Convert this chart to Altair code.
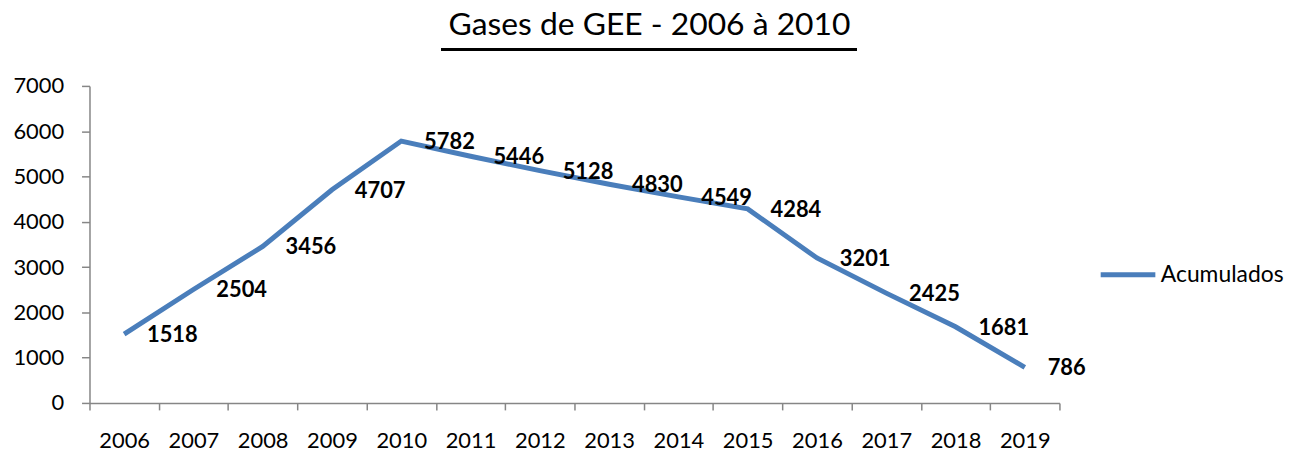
import altair as alt
import pandas as pd

years = ["2006", "2007", "2008", "2009", "2010", "2011", "2012",
         "2013", "2014", "2015", "2016", "2017", "2018", "2019"]
values = [1518, 2504, 3456, 4707, 5782, 5446, 5128,
          4830, 4549, 4284, 3201, 2425, 1681, 786]
series = ["Acumulados"] * len(years)
title_text = "Gases de GEE - 2006 à 2010"

df = pd.DataFrame({"year": years, "value": values, "series": series})

FONT = "Lato"
BLUE = "#4A7EBB"
GRAY = "#868686"

x = alt.X("year:O", title=None,
          scale=alt.Scale(type="band", paddingInner=0, paddingOuter=0),
          axis=alt.Axis(labelAngle=0, tickBand="extent", domainColor=GRAY,
                        tickColor=GRAY, tickSize=7, labelPadding=21,
                        labelFont=FONT, labelFontSize=22, labelColor="black",
                        domainWidth=1.5, tickWidth=1.5))
y = alt.Y("value:Q", title=None,
          scale=alt.Scale(domain=[0, 7000], nice=False),
          axis=alt.Axis(values=list(range(0, 7001, 1000)), grid=False, format="d",
                        domainColor=GRAY, tickColor=GRAY, tickSize=8,
                        labelPadding=18, labelFont=FONT, labelFontSize=22,
                        labelColor="black", domainWidth=1.5, tickWidth=1.5))

line = alt.Chart(df).mark_line(strokeWidth=5).encode(
    x=x, y=y,
    color=alt.Color("series:N", title=None,
                    scale=alt.Scale(range=[BLUE]),
                    legend=alt.Legend(orient="none", legendX=1015, legendY=160,
                                      symbolType="stroke", symbolSize=3025,
                                      symbolStrokeWidth=5, labelOffset=3,
                                      labelFont=FONT, labelFontSize=23,
                                      labelColor="black", labelLimit=300))
)

labels = alt.Chart(df).mark_text(align="left", baseline="middle", dx=23, dy=1,
                                 font=FONT, fontSize=22, fontWeight="bold",
                                 color="black").encode(
    x=x, y=y, text=alt.Text("value:Q", format="d")
)

title = alt.Chart(pd.DataFrame({"t": [title_text]})).mark_text(
    align="center", baseline="alphabetic", font=FONT, fontSize=32,
    color="black").encode(
    x=alt.value(563.5), y=alt.value(-51), text="t:N"
)

underline = alt.Chart(df).mark_rule(color="black", strokeWidth=2.5).encode(
    x=alt.value(354), x2=alt.value(772), y=alt.value(-37)
)

chart = alt.layer(line, labels, title, underline).properties(
    width=976, height=319,
    autosize=alt.AutoSizeParams(type="none"),
    padding={"left": 82, "top": 77, "right": 233, "bottom": 52},
).configure_view(stroke=None)

chart.save("out.html", embed_options={"renderer": "svg", "actions": False})
